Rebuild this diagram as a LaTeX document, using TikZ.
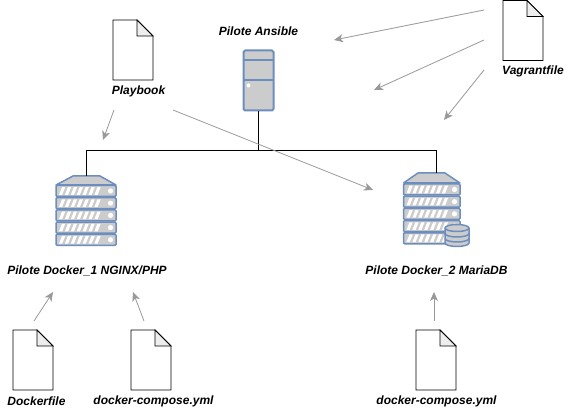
\documentclass[tikz,border=0pt]{standalone}
\usepackage{fontspec}
\setmainfont{Liberation Sans}
\usetikzlibrary{arrows.meta}
\definecolor{iconblue}{RGB}{108,142,191}
\definecolor{icongray}{RGB}{204,204,204}
\definecolor{arrowgray}{RGB}{153,153,153}
\definecolor{foldgray}{RGB}{238,238,238}
\tikzset{
  lbl/.style={font=\bfseries\itshape\fontsize{12}{14}\selectfont, inner sep=0pt},
  flow/.style={arrowgray, line width=0.8pt, -{Stealth[length=9pt,width=8pt,inset=2.5pt]}},
  wire/.style={black, line width=0.8pt},
  icon/.style={draw=iconblue, fill=icongray, line width=1.5pt, line join=round}
}
\newcommand{\filedoc}[2]{
  \begin{scope}[shift={(#1,#2)}]
    \draw[black, fill=white, line width=0.8pt] (0,0) -- (24,0) -- (40,16) -- (40,60) -- (0,60) -- cycle;
    \draw[black, fill=foldgray, line width=0.8pt] (24,0) -- (24,16) -- (40,16) -- cycle;
  \end{scope}
}
\newcommand{\rackunit}[3]{
  \begin{scope}[shift={(#1,#2)}]
    \draw[icon, rounded corners=1pt] (0,0) rectangle (#3,11);
    \foreach \s in {0,...,6}
      \fill[white] (3+\s*5.9,9.3) -- (6.2+\s*5.9,9.3) -- (9.2+\s*5.9,1.7) -- (6+\s*5.9,1.7) -- cycle;
    \fill[white] (#3-5.5,5.5) circle (2.6);
  \end{scope}
}

\begin{document}
\begin{tikzpicture}[x=1pt, y=-1pt]
    \useasboundingbox (0,0) rectangle (574,411);

    %% labels
    \node[lbl] (ansiblelbl) at (258.5,31) {Pilote Ansible};
    \node[lbl] (playbooklbl) at (138.5,91) {Playbook};
    \node[lbl] (vagrantlbl) at (533,71) {Vagrantfile};
    \node[lbl] (docker1lbl) at (87,271) {Pilote Docker\_1 NGINX/PHP};
    \node[lbl] (docker2lbl) at (436.5,271) {Pilote Docker\_2 MariaDB};
    \node[lbl] (dockerfilelbl) at (36.5,401) {Dockerfile};
    \node[lbl] (compose1lbl) at (153.5,401) {docker-compose.yml};
    \node[lbl] (compose2lbl) at (436.5,401) {docker-compose.yml};

    %% files
    \filedoc{113}{20}
    \filedoc{503}{0.5}
    \filedoc{13}{330}
    \filedoc{131}{330}
    \filedoc{416}{330}

    %% ansible tower
    \node[icon, rounded corners=1.5pt, line width=2pt, inner sep=0pt, minimum width=30pt, minimum height=60pt] (ansible) at (258.5,80.5) {};
    \draw[iconblue, line width=2pt] (243.5,60.5) -- (273.5,60.5);
    \draw[iconblue, line width=2pt] (243.5,80.5) -- (273.5,80.5);
    \fill[white] (248.5,85.5) circle (2);

    %% docker 1
    \draw[icon] (56,185) -- (73,176) -- (100,176) -- (116,185) -- cycle;
    \foreach \u in {0,...,4}
      \rackunit{56}{185.5+\u*12.2}{60}
    \coordinate (docker1) at (86,176);

    %% docker 2
    \draw[icon] (403.5,183) -- (418,173) -- (445,173) -- (460,183) -- cycle;
    \foreach \u in {0,...,4}
      \rackunit{403.5}{184+\u*12.2}{56.5}
    \coordinate (docker2) at (436,173);

    %% database
    \draw[icon] (445,228) -- (445,243) arc[start angle=180, end angle=0, x radius=12, y radius=3.5] -- (469,228);
    \draw[icon] (445,228) arc[start angle=180, end angle=0, x radius=12, y radius=3.5] arc[start angle=0, end angle=-180, x radius=12, y radius=3.5] -- cycle;
    \draw[iconblue, line width=1.5pt] (445,233.5) arc[start angle=180, end angle=0, x radius=12, y radius=3.5];
    \draw[iconblue, line width=1.5pt] (445,238.5) arc[start angle=180, end angle=0, x radius=12, y radius=3.5];

    %% network
    \coordinate (bus) at (258.5,150.5);
    \draw[wire] (ansible.south) -- (bus);
    \draw[wire] (docker1) |- (bus) -| (docker2);

    %% arrow ends
    \coordinate (v1a) at (484,10);
    \coordinate (v1b) at (334,40);
    \coordinate (v2a) at (484,40);
    \coordinate (v2b) at (374,90);
    \coordinate (v3a) at (484,70);
    \coordinate (v3b) at (444,120);
    \coordinate (p1a) at (114,110);
    \coordinate (p1b) at (103,140);
    \coordinate (p2a) at (173,110);
    \coordinate (p2b) at (373,190);
    \coordinate (d1a) at (34,321);
    \coordinate (d1b) at (53,292);
    \coordinate (c1a) at (144,321);
    \coordinate (c1b) at (133,292);
    \coordinate (c2a) at (434,321);
    \coordinate (c2b) at (434,292);

    \foreach \a/\b in {v1a/v1b, v2a/v2b, v3a/v3b, p1a/p1b, p2a/p2b, d1a/d1b, c1a/c1b, c2a/c2b}
      \draw[flow] (\a) -- (\b);
\end{tikzpicture}
\end{document}
